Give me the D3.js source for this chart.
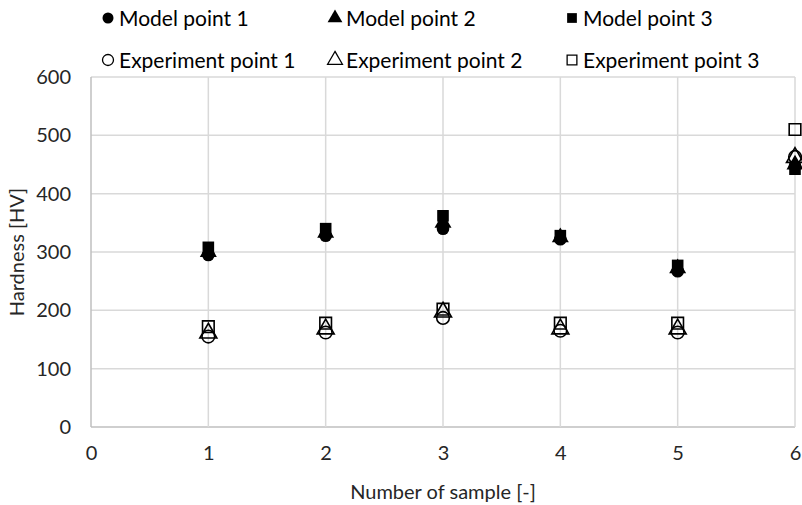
<!DOCTYPE html>
<html>
<head>
<meta charset="utf-8">
<script src="https://cdn.jsdelivr.net/npm/d3@7"></script>
<style>
  body { margin: 0; background: #fff; }
  svg { font-family: Lato, "Open Sans", sans-serif; }
</style>
</head>
<body>
<div id="vis"></div>
<script>
const FRAME_WIDTH = 802;
const FRAME_HEIGHT = 505;
const MARGINS = { top: 77, bottom: 78, left: 91, right: 7 };
const VIS_WIDTH = FRAME_WIDTH - MARGINS.left - MARGINS.right;
const VIS_HEIGHT = FRAME_HEIGHT - MARGINS.top - MARGINS.bottom;

// data
const SAMPLES = [1, 2, 3, 4, 5, 6];
const MODEL_1 = [295, 328, 340, 322, 267, 447];
const MODEL_2 = [300, 333, 350, 325, 272, 450];
const MODEL_3 = [308, 340, 362, 328, 277, 442];
const EXP_1 = [155, 162, 187, 165, 162, 463];
const EXP_2 = [161, 168, 197, 168, 168, 462];
const EXP_3 = [172, 178, 202, 178, 178, 510];
const X_TICKS = [0, 1, 2, 3, 4, 5, 6];
const Y_TICKS = [0, 100, 200, 300, 400, 500, 600];

const SERIES = [
  { name: "Model point 1", values: MODEL_1, shape: d3.symbolCircle, filled: true },
  { name: "Model point 2", values: MODEL_2, shape: d3.symbolTriangle, filled: true },
  { name: "Model point 3", values: MODEL_3, shape: d3.symbolSquare, filled: true },
  { name: "Experiment point 1", values: EXP_1, shape: d3.symbolCircle, filled: false },
  { name: "Experiment point 2", values: EXP_2, shape: d3.symbolTriangle, filled: false },
  { name: "Experiment point 3", values: EXP_3, shape: d3.symbolSquare, filled: false },
];

const FRAME = d3
  .select("#vis")
  .append("svg")
  .attr("width", FRAME_WIDTH)
  .attr("height", FRAME_HEIGHT);

const X_SCALE = d3.scaleLinear().domain([0, 6]).range([0, VIS_WIDTH]);
const Y_SCALE = d3.scaleLinear().domain([0, 600]).range([VIS_HEIGHT, 0]);

const PLOT = FRAME.append("g")
  .attr("transform", `translate(${MARGINS.left},${MARGINS.top})`);

// grid
PLOT.selectAll(".hgrid")
  .data(Y_TICKS)
  .enter()
  .append("line")
  .attr("x1", 0)
  .attr("x2", VIS_WIDTH)
  .attr("y1", (d) => Y_SCALE(d))
  .attr("y2", (d) => Y_SCALE(d))
  .attr("stroke", (d) => (d === 0 ? "#bfbfbf" : "#d9d9d9"))
  .attr("stroke-width", 1.5);

PLOT.selectAll(".vgrid")
  .data(X_TICKS)
  .enter()
  .append("line")
  .attr("x1", (d) => X_SCALE(d))
  .attr("x2", (d) => X_SCALE(d))
  .attr("y1", 0)
  .attr("y2", VIS_HEIGHT)
  .attr("stroke", (d) => (d === 0 ? "#bfbfbf" : "#d9d9d9"))
  .attr("stroke-width", 1.5);

// axes (labels only)
const xAxis = PLOT.append("g")
  .attr("transform", `translate(0,${VIS_HEIGHT})`)
  .call(d3.axisBottom(X_SCALE).tickValues(X_TICKS).tickFormat(d3.format("d")).tickSize(0).tickPadding(19));
const yAxis = PLOT.append("g")
  .call(d3.axisLeft(Y_SCALE).tickValues(Y_TICKS).tickSize(0).tickPadding(20));
[xAxis, yAxis].forEach((ax) => {
  ax.select(".domain").remove();
  ax.selectAll("text")
    .attr("font-family", "Lato, sans-serif")
    .attr("font-size", 20)
    .attr("fill", "#262626");
});

// markers
SERIES.forEach((s) => {
  PLOT.selectAll(null)
    .data(s.values)
    .enter()
    .append("path")
    .attr("d", d3.symbol().type(s.shape).size(s.shape === d3.symbolSquare ? 135 : 125))
    .attr("transform", (d, i) => `translate(${X_SCALE(SAMPLES[i])},${Y_SCALE(d)})`)
    .attr("fill", s.filled ? "#000" : "none")
    .attr("stroke", "#000")
    .attr("stroke-width", s.filled ? 0 : 1.6);
});

// axis titles
FRAME.append("text")
  .attr("x", MARGINS.left + VIS_WIDTH / 2)
  .attr("y", 499)
  .attr("text-anchor", "middle")
  .attr("font-size", 20)
  .attr("fill", "#262626")
  .text("Number of sample [-]");

FRAME.append("text")
  .attr("transform", `translate(24,${MARGINS.top + VIS_HEIGHT / 2}) rotate(-90)`)
  .attr("text-anchor", "middle")
  .attr("font-size", 20)
  .attr("fill", "#262626")
  .text("Hardness  [HV]");

// legend
const LEGEND_X = [108, 335, 572];
const LEGEND_Y = [18, 60];
SERIES.forEach((s, i) => {
  const col = i % 3;
  const row = Math.floor(i / 3);
  const g = FRAME.append("g")
    .attr("transform", `translate(${LEGEND_X[col]},${LEGEND_Y[row]})`);
  g.append("path")
    .attr("d", d3.symbol().type(s.shape).size(95))
    .attr("fill", s.filled ? "#000" : "none")
    .attr("stroke", "#000")
    .attr("stroke-width", s.filled ? 0 : 1.3);
  g.append("text")
    .attr("x", 11)
    .attr("y", 8)
    .attr("font-size", 21)
    .attr("fill", "#000")
    .text(s.name);
});
</script>
</body>
</html>
